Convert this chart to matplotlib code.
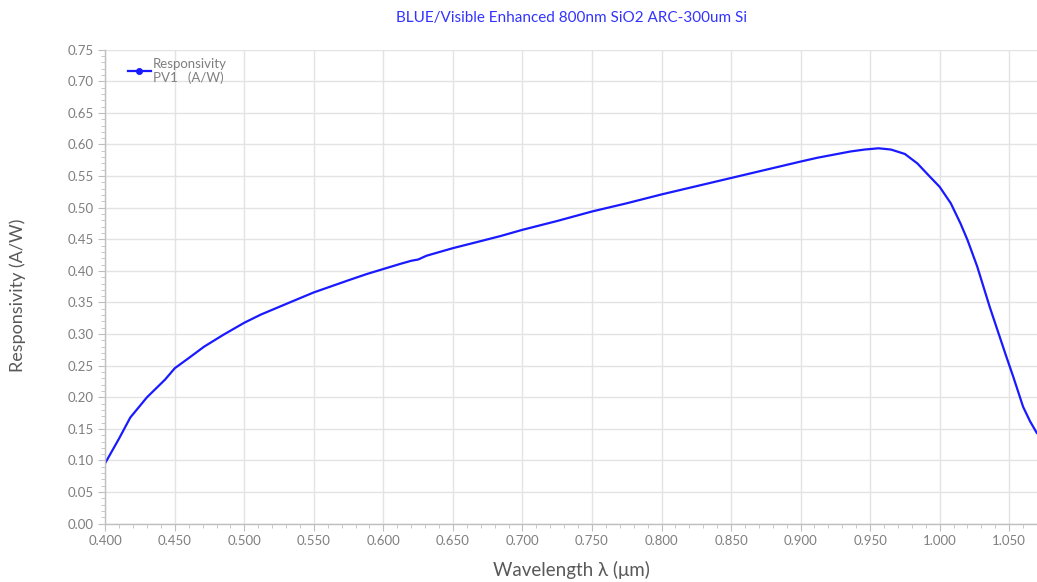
import matplotlib
matplotlib.use("Agg")
import matplotlib.pyplot as plt
from matplotlib.ticker import MultipleLocator, FormatStrFormatter
from matplotlib.lines import Line2D

wavelength_um = [0.400, 0.410, 0.418, 0.430, 0.443, 0.450, 0.460, 0.471, 0.485, 0.500,
                 0.512, 0.525, 0.538, 0.550, 0.563, 0.576, 0.588, 0.600, 0.612, 0.620,
                 0.625, 0.631, 0.650, 0.668, 0.684, 0.700, 0.725, 0.750, 0.775, 0.800,
                 0.825, 0.850, 0.875, 0.900, 0.912, 0.924, 0.936, 0.946, 0.956, 0.965,
                 0.975, 0.984, 0.993, 1.000, 1.008, 1.015, 1.020, 1.027, 1.036, 1.048,
                 1.053, 1.060, 1.065, 1.070]
responsivity = [0.096, 0.135, 0.168, 0.200, 0.228, 0.246, 0.262, 0.280, 0.299, 0.318,
                0.331, 0.343, 0.355, 0.366, 0.376, 0.386, 0.395, 0.403, 0.411, 0.416,
                0.418, 0.424, 0.436, 0.446, 0.455, 0.465, 0.479, 0.494, 0.507, 0.521,
                0.534, 0.547, 0.560, 0.573, 0.579, 0.584, 0.589, 0.592, 0.594, 0.592,
                0.585, 0.570, 0.549, 0.533, 0.507, 0.475, 0.449, 0.407, 0.343, 0.264,
                0.232, 0.185, 0.162, 0.143]

series_label = "Responsivity\nPV1   (A/W)"
title = "BLUE/Visible Enhanced 800nm SiO2 ARC-300um Si"
xlabel = "Wavelength \u03bb (\u03bcm)"
ylabel = "Responsivity (A/W)"

plt.rcParams['font.family'] = ['Lato', 'DejaVu Sans']
grey = '#7f7f7f'
label_grey = '#595959'
line_blue = '#1a1aff'

fig = plt.figure(figsize=(10.37, 5.82), dpi=100)
ax = fig.add_axes([0.1015, 0.1002, 0.8985, 0.8144])

ax.plot(wavelength_um, responsivity, color=line_blue, lw=1.6,
        solid_joinstyle='round', solid_capstyle='round')

ax.set_xlim(0.400, 1.070)
ax.set_ylim(0.0, 0.75)
ax.xaxis.set_major_locator(MultipleLocator(0.05))
ax.xaxis.set_minor_locator(MultipleLocator(0.01))
ax.yaxis.set_major_locator(MultipleLocator(0.05))
ax.yaxis.set_minor_locator(MultipleLocator(0.01))
ax.xaxis.set_major_formatter(FormatStrFormatter('%.3f'))
ax.yaxis.set_major_formatter(FormatStrFormatter('%.2f'))

ax.grid(True, which='major', color='#e3e3e3', lw=1.0)
ax.set_axisbelow(True)
for s in ['top', 'right']:
    ax.spines[s].set_visible(False)
for s in ['left', 'bottom']:
    ax.spines[s].set_color('#bfbfbf')
    ax.spines[s].set_linewidth(1.0)

ax.tick_params(which='major', direction='out', length=5, color='#bfbfbf',
               labelcolor=grey, labelsize=9.5)
ax.tick_params(which='minor', direction='out', length=3, color='#bfbfbf')

ax.set_title(title, color='#3333ff', fontsize=11, pad=20)
ax.set_xlabel(xlabel, color=label_grey, fontsize=13.5, labelpad=10)
ax.set_ylabel(ylabel, color=label_grey, fontsize=13)
ax.yaxis.set_label_coords(-0.085, 0.4825)

handle = Line2D([], [], color=line_blue, lw=1.6, marker='o', markersize=4)
leg = ax.legend([handle], [series_label], loc='upper left', frameon=False,
                fontsize=9.5, handlelength=1.7, handletextpad=0.2,
                borderaxespad=0.2, bbox_to_anchor=(0.016, 1.0))
for t in leg.get_texts():
    t.set_color(grey)

fig.savefig('out.png', dpi=100)
